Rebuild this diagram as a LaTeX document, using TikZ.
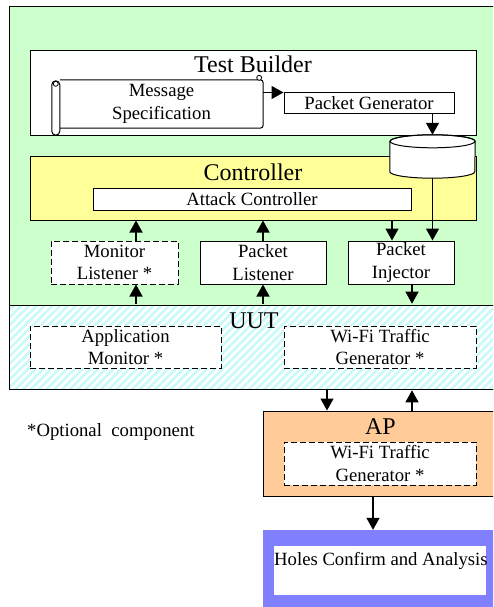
\documentclass[tikz,border=0pt]{standalone}
\usepackage{fontspec}
\setmainfont{Liberation Serif}
\usetikzlibrary{arrows.meta,patterns.meta}

\definecolor{tbgreen}{HTML}{CCFFCC}
\definecolor{ctrlyellow}{HTML}{FFFF99}
\definecolor{aporange}{HTML}{FFCC99}
\definecolor{holesblue}{HTML}{8080FF}
\definecolor{uutcyan}{HTML}{C8FAFA}
\newcommand\boxfont{\fontsize{18.7}{22.5}\selectfont}
\newcommand\titlefont{\fontsize{24}{26}\selectfont}

\begin{document}
\begin{tikzpicture}[x=1pt,y=-1pt,
  box/.style={draw,line width=1pt,fill=white,inner sep=0pt,align=center,font=\boxfont},
  optbox/.style={box,dash pattern=on 6pt off 3pt},
  title/.style={inner sep=0pt,anchor=base,font=\titlefont},
  arr/.style={line width=1.3pt,-{Triangle[length=12pt,width=13pt]}}]
\useasboundingbox (0,0) rectangle (493,607);
\clip (0,0) rectangle (493,607);

\fill[tbgreen] (9,7) rectangle (500,305);
\node[draw,line width=1pt,minimum width=491pt,minimum height=84pt,inner sep=0pt,
  preaction={fill=white},pattern={Lines[angle=45,distance=5.5pt,line width=2.6pt]},
  pattern color=uutcyan] (uut) at (254.5,347) {};
\draw[line width=1pt] (9,7) rectangle (500,389);

\node[box,minimum width=446pt,minimum height=84pt] (tb) at (253,93) {};
\node[title] (tbtitle) at (253,73) {Test Builder};
\node[inner sep=0pt,minimum width=203pt,minimum height=48pt,align=center,font=\boxfont] (msg) at (161.5,104) {Message\\Specification};
\draw[line width=1pt,rounded corners=3pt] (msg.north west) -- (msg.north east) -- (msg.south east) -- (msg.south west);
\draw[line width=1pt,fill=white,rounded corners=4pt] ([xshift=-8pt,yshift=-1pt]msg.north west) rectangle ([yshift=-7pt]msg.south west);
\draw[line width=0.8pt] ([xshift=-4pt,yshift=-4pt]msg.north west) circle (2.5pt);
\draw[line width=0.8pt,fill=white] ([xshift=-4pt,yshift=2pt]msg.north east) circle (2.5pt);
\node[box,minimum width=170pt,minimum height=21pt] (pktgen) at (369,103.5) {Packet Generator};

\node[box,fill=ctrlyellow,minimum width=446pt,minimum height=64pt] (ctrl) at (253,188) {};
\node[title] (ctrltitle) at (253,180) {Controller};
\node[box,minimum width=318pt,minimum height=22pt] (atk) at (252,199) {Attack Controller};

\node[inner sep=0pt,minimum width=85pt,minimum height=43pt] (db) at (432.5,156.5) {};
\draw[line width=1pt,fill=white] ([yshift=-6.5pt]db.north west) -- ([yshift=6.5pt]db.south west)
  arc[start angle=180,end angle=360,x radius=42.5pt,y radius=6.5pt]
  -- ([yshift=-6.5pt]db.north east)
  arc[start angle=0,end angle=180,x radius=42.5pt,y radius=6.5pt] -- cycle;
\draw[line width=1pt] ([yshift=-6.5pt]db.north) ellipse [x radius=42.5pt,y radius=6.5pt];

\node[optbox,minimum width=127pt,minimum height=43pt] (mon) at (114.5,262.5) {Monitor\\Listener *};
\node[box,minimum width=126pt,minimum height=43pt] (plis) at (263,262.5) {Packet\\Listener};
\node[box,minimum width=106pt,minimum height=43pt] (pinj) at (401,262.5) {Packet\\Injector};

\node[title] (uuttitle) at (254,328) {UUT};
\node[optbox,minimum width=191pt,minimum height=42pt] (appmon) at (125.5,347) {Application\\Monitor *};
\node[optbox,minimum width=192pt,minimum height=42pt] (wifiuut) at (380,347) {Wi-Fi Traffic\\Generator *};

\node[font=\boxfont,inner sep=0pt,anchor=base west] (note) at (27,436) {*Optional\ \ component};

\node[box,fill=aporange,minimum width=237pt,minimum height=85pt] (ap) at (381.5,453.5) {};
\node[title] (aptitle) at (380.5,434) {AP};
\node[optbox,minimum width=192pt,minimum height=43pt] (wifiap) at (380,463.5) {Wi-Fi Traffic\\Generator *};

\node[fill=holesblue,inner sep=0pt,minimum width=237pt,minimum height=85pt] (holes) at (381.5,572.5) {};
\node[fill=white,inner sep=0pt,minimum width=212pt,minimum height=49pt] (holesin) at (380,570.5) {};
\node[font=\boxfont,inner sep=0pt,anchor=base west] (holestext) at (274,565) {Holes Confirm and Analysis};

\coordinate (injin) at ([xshift=-9pt]pinj.north);
\coordinate (injout) at ([xshift=11pt]pinj.south);
\coordinate (monup) at ([xshift=21.5pt]mon.north);
\coordinate (monlo) at ([xshift=21.5pt]mon.south);
\coordinate (apin) at ([xshift=-54.5pt]ap.north);
\coordinate (apout) at ([xshift=30.5pt]ap.north);
\coordinate (apdn) at ([xshift=-8.5pt]ap.south);

\draw[arr] (msg.east |- pktgen.north) -- (pktgen.north west);
\draw[arr] (db.north |- pktgen.south) -- (db.north);
\draw[arr] (db.south) -- (db.south |- pinj.north);
\draw[arr] (injin |- ctrl.south) -- (injin);
\draw[arr] (monup) -- (monup |- ctrl.south);
\draw[arr] (plis.north) -- (plis.north |- ctrl.south);
\draw[arr] (uut.north -| monlo) -- (monlo);
\draw[arr] (uut.north -| plis.south) -- (plis.south);
\draw[arr] (injout) -- (injout |- uut.north);
\draw[arr] (apin |- uut.south) -- (apin);
\draw[arr] (apout) -- (apout |- uut.south);
\draw[arr] (apdn) -- (apdn |- holes.north);
\end{tikzpicture}
\end{document}
